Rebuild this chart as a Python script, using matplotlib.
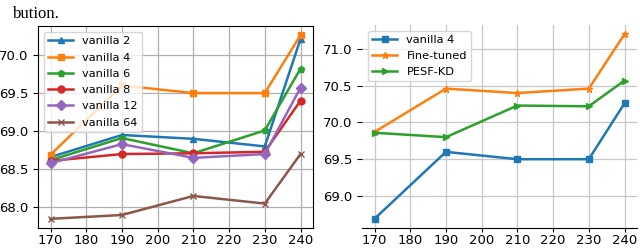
import matplotlib
matplotlib.use("Agg")
import matplotlib.pyplot as plt

x = [170, 190, 210, 230, 240]

left_labels = ["vanilla 2", "vanilla 4", "vanilla 6", "vanilla 8", "vanilla 12", "vanilla 64"]
v2 = [68.66, 68.95, 68.90, 68.80, 70.21]
v4 = [68.69, 69.60, 69.50, 69.50, 70.26]
v6 = [68.62, 68.91, 68.71, 69.01, 69.82]
v8 = [68.61, 68.70, 68.71, 68.73, 69.40]
v12 = [68.58, 68.83, 68.65, 68.70, 69.57]
v64 = [67.85, 67.90, 68.15, 68.05, 68.70]

right_labels = ["vanilla 4", "Fine-tuned", "PESF-KD"]
r_v4 = [68.69, 69.60, 69.50, 69.50, 70.26]
r_ft = [69.87, 70.46, 70.40, 70.46, 71.20]
r_pesf = [69.86, 69.80, 70.23, 70.22, 70.57]

xticks = [170, 180, 190, 200, 210, 220, 230, 240]
left_yticks = [68.0, 68.5, 69.0, 69.5, 70.0]
right_yticks = [69.0, 69.5, 70.0, 70.5, 71.0]

C = ["#1f77b4", "#ff7f0e", "#2ca02c", "#d62728", "#9467bd", "#8c564b"]

fig = plt.figure(figsize=(6.4, 2.48), dpi=100)
fig.text(13/640, 1 - 18/248, "bution.", fontsize=12, family="Liberation Serif",
         va="baseline", ha="left")

ax1 = fig.add_axes([38/640, 20/248, 275/640, 202/248])
series = [v2, v4, v6, v8, v12, v64]
markers = ["^", "s", "p", "o", "D", "x"]
for ys, m, c, lab in zip(series, markers, C, left_labels):
    ax1.plot(x, ys, marker=m, color=c, label=lab, lw=1.8, ms=5)
ax1.set_xticks(xticks)
ax1.set_yticks(left_yticks)
ax1.set_yticklabels([f"{t:.1f}" for t in left_yticks])
ax1.grid(True, color="#b0b0b0", lw=0.9)
ax1.tick_params(labelsize=9.5)
ax1.tick_params(axis="x", pad=1.2, length=3)
ax1.legend(loc="upper left", fontsize=8.2, labelspacing=0.55, handlelength=2.2,
           borderaxespad=0.5)

ax2 = fig.add_axes([362/640, 20/248, 275/640, 203/248])
rseries = [r_v4, r_ft, r_pesf]
rmarkers = ["s", "*", ">"]
for ys, m, c, lab in zip(rseries, rmarkers, C[:3], right_labels):
    ax2.plot(x, ys, marker=m, color=c, label=lab, lw=1.8, ms=5)
ax2.set_xticks(xticks)
ax2.set_yticks(right_yticks)
ax2.set_yticklabels([f"{t:.1f}" for t in right_yticks])
ax2.grid(True, color="#c8c8c8", lw=0.9)
ax2.tick_params(labelsize=9.5)
ax2.tick_params(axis="x", pad=1.2, length=3)
for s in ["left", "top", "right"]:
    ax2.spines[s].set_visible(False)
ax2.legend(loc="upper left", fontsize=8.2, labelspacing=0.5, handlelength=2.2,
           borderaxespad=0.5)

fig.savefig("out.png", dpi=100)
